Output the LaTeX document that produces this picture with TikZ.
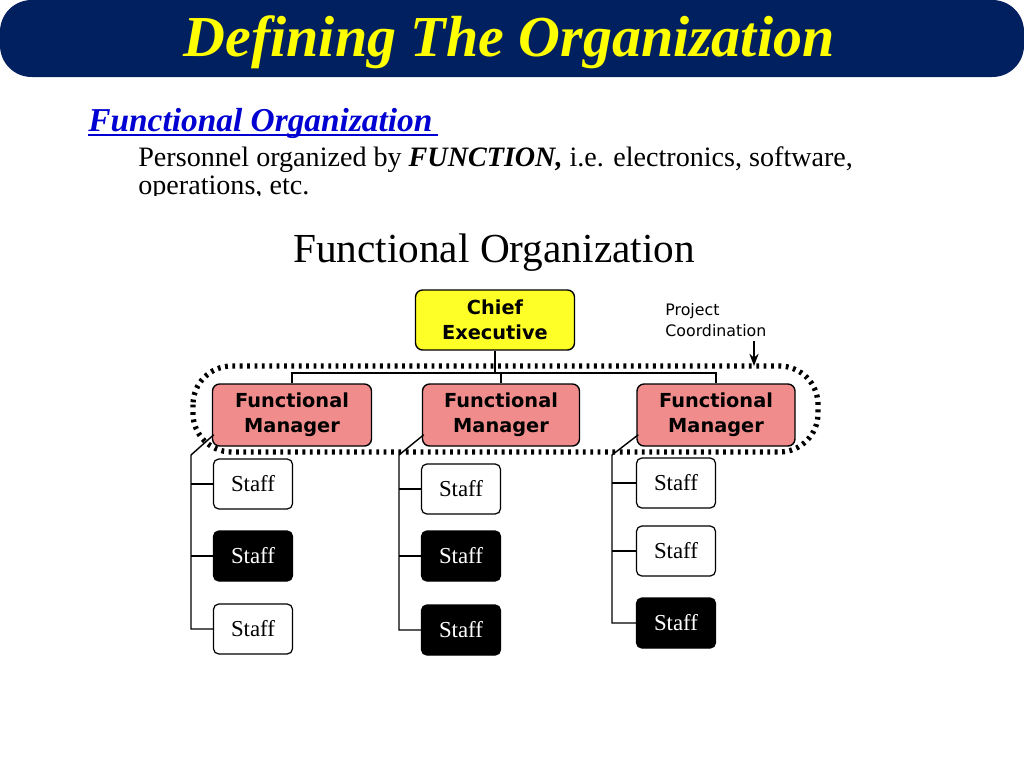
\documentclass[tikz,border=0pt]{standalone}
\usepackage{fontspec}
\setmainfont{Liberation Serif}
\newfontfamily\boxfont{DejaVu Sans}
\usetikzlibrary{arrows.meta}
\definecolor{navy}{RGB}{0,32,96}
\definecolor{ttlyellow}{RGB}{255,255,0}
\definecolor{linkblue}{RGB}{0,0,210}
\definecolor{chiefy}{RGB}{255,255,40}
\definecolor{mgrpink}{RGB}{240,140,140}
\begin{document}
\begin{tikzpicture}[x=0.02cm,y=-0.02cm,
  chief/.style={draw=black,fill=chiefy,rounded corners=4pt,line width=0.8pt,font=\boxfont\bfseries\fontsize{11}{14}\selectfont,align=center,inner sep=0pt},
  mgr/.style={draw=black,fill=mgrpink,rounded corners=4pt,line width=0.8pt,font=\boxfont\bfseries\fontsize{11}{14}\selectfont,align=center,inner sep=0pt},
  staffw/.style={draw=black,fill=white,rounded corners=3pt,line width=0.7pt,font=\fontsize{13}{15}\selectfont,inner sep=0pt,minimum width=1.58cm,minimum height=1.0cm},
  staffb/.style={staffw,fill=black,text=white},
  conn/.style={line width=0.8pt}]
\useasboundingbox (0,0) rectangle (1024,768);
\fill[white] (0,0) rectangle (1024,768);
% title bar
\fill[navy,rounded corners=18pt] (0,0) rectangle (1024,77);
\node (title) at (509,42) {\fontsize{33}{36}\selectfont\bfseries\itshape\color{ttlyellow}Defining The Organization};
\node[anchor=base west,inner sep=0pt] (sub) at (88,131) {\fontsize{19}{22}\selectfont\bfseries\itshape\color{linkblue}Functional Organization};
\draw[linkblue,line width=0.8pt] (88,135) -- (438,135);
\node[anchor=base west,inner sep=0pt] (body1) at (138,166) {\fontsize{16}{19}\selectfont Personnel organized by \textbf{\textit{FUNCTION,}} i.e. electronics, software,};
\node[anchor=base west,inner sep=0pt] (body2) at (138,194) {\fontsize{16}{19}\selectfont operations, etc.};
\fill[white] (100,196) rectangle (900,215);
% diagram title
\node (dtitle) at (494,253) {\fontsize{23.5}{27}\selectfont Functional Organization};
% chief
\node[chief,minimum width=3.18cm,minimum height=1.2cm] (chief) at (495,320) {Chief\\Executive};
% managers
\node[mgr,minimum width=3.18cm,minimum height=1.24cm] (m1) at (292,415) {Functional\\Manager};
\node[mgr,minimum width=3.14cm,minimum height=1.24cm] (m2) at (501,415) {Functional\\Manager};
\node[mgr,minimum width=3.16cm,minimum height=1.24cm] (m3) at (716,415) {Functional\\Manager};
% tree lines
\coordinate (bar) at (495,373);
\draw[conn] (chief.south) -- (bar);
\draw[conn] (m1.north) |- (bar) -| (m3.north);
\draw[conn] (m2.north |- bar) -- (m2.north);
% dotted project coordination
\draw[line width=3pt,dash pattern=on 1.6pt off 2.6pt,rounded corners=22pt] (193,366) rectangle (818,452);
\node[anchor=west,align=left,inner sep=0pt,font=\boxfont\fontsize{9}{12}\selectfont] (pc) at (665,320) {Project\\Coordination};
\coordinate (pcend) at (754,366);
\draw[conn,-{Stealth[length=7pt]}] (754,341) -- (pcend);
% staff
\node[staffw] (s11) at (253,484) {Staff};
\node[staffb] (s12) at (253,556) {Staff};
\node[staffw] (s13) at (253,629) {Staff};
\node[staffw] (s21) at (461,489) {Staff};
\node[staffb] (s22) at (461,556) {Staff};
\node[staffb] (s23) at (461,630) {Staff};
\node[staffw] (s31) at (676,483) {Staff};
\node[staffw] (s32) at (676,551) {Staff};
\node[staffb] (s33) at (676,623) {Staff};
% trunks
\coordinate (t1) at (191,455); \coordinate (t1b) at (191,629);
\coordinate (t2) at (399,455); \coordinate (t2b) at (399,630);
\coordinate (t3) at (612,455); \coordinate (t3b) at (612,623);
\draw[conn] (m1.south west) ++(2,-12) -- (t1) -- (t1b) -- (s13.west);
\draw[conn] (t1 |- s11.west) -- (s11.west);
\draw[conn] (t1 |- s12.west) -- (s12.west);
\draw[conn] (m2.south west) ++(2,-12) -- (t2) -- (t2b) -- (s23.west);
\draw[conn] (t2 |- s21.west) -- (s21.west);
\draw[conn] (t2 |- s22.west) -- (s22.west);
\draw[conn] (m3.south west) ++(2,-12) -- (t3) -- (t3b) -- (s33.west);
\draw[conn] (t3 |- s31.west) -- (s31.west);
\draw[conn] (t3 |- s32.west) -- (s32.west);
\end{tikzpicture}
\end{document}
